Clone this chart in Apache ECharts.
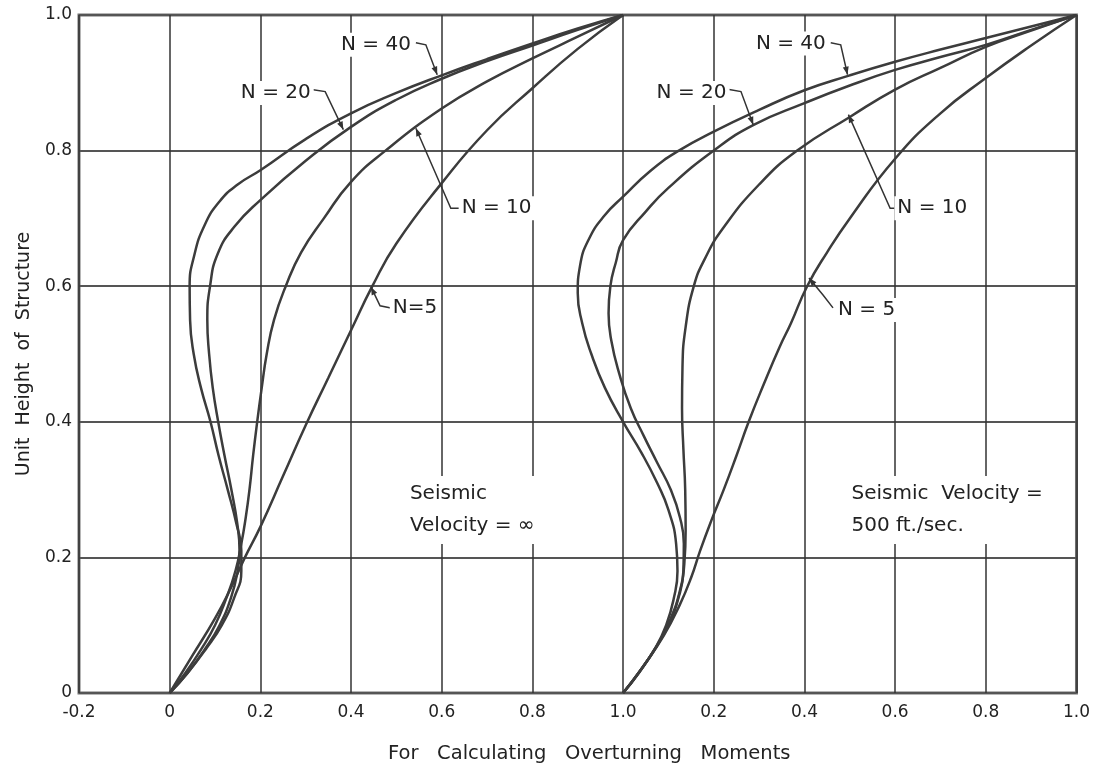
<!DOCTYPE html>
<html><head><meta charset="utf-8">
<script src="https://cdn.jsdelivr.net/npm/echarts@6/dist/echarts.min.js"></script>
<style>html,body{margin:0;padding:0;background:#fff}#c{width:1093px;height:772px}</style>
</head><body><div id="c"></div>
<script>
// ---- tick labels ----
const xTickLabels = ['-0.2','0','0.2','0.4','0.6','0.8','1.0','0.2','0.4','0.6','0.8','1.0'];
const yTickLabels = ['0','0.2','0.4','0.6','0.8','1.0'];
const panelOffsets = { inf: 0.0, v500: 1.0 };

// ---- Seismic velocity = infinity (left panel) : [moment ratio, unit height] ----
const infN40 = [[0,0],[0.04,0.03],[0.08,0.065],[0.115,0.1],[0.142,0.14],[0.158,0.18],[0.158,0.21],[0.147,0.25],[0.128,0.3],[0.108,0.35],[0.09,0.4],[0.069,0.45],[0.053,0.5],[0.045,0.55],[0.044,0.6],[0.054,0.645],[0.077,0.69],[0.11,0.725],[0.15,0.75],[0.2,0.771],[0.3,0.817],[0.4,0.855],[0.5,0.885],[0.6,0.911],[0.7,0.935],[0.8,0.958],[0.9,0.98],[1.0,1.0]];
const infN20 = [[0,0],[0.04,0.03],[0.078,0.065],[0.11,0.1],[0.135,0.14],[0.15,0.18],[0.154,0.21],[0.149,0.25],[0.136,0.3],[0.121,0.35],[0.107,0.4],[0.095,0.45],[0.087,0.5],[0.083,0.55],[0.089,0.6],[0.106,0.648],[0.143,0.688],[0.2,0.727],[0.3,0.785],[0.4,0.835],[0.5,0.875],[0.6,0.906],[0.7,0.932],[0.8,0.955],[0.9,0.978],[1.0,1.0]];
const infN10 = [[0,0],[0.035,0.03],[0.07,0.065],[0.1,0.1],[0.125,0.14],[0.145,0.18],[0.158,0.22],[0.168,0.26],[0.176,0.3],[0.184,0.35],[0.193,0.4],[0.203,0.45],[0.214,0.5],[0.23,0.55],[0.256,0.6],[0.29,0.65],[0.34,0.7],[0.4,0.754],[0.476,0.8],[0.6,0.862],[0.7,0.902],[0.8,0.936],[0.9,0.968],[1.0,1.0]];
const infN5  = [[0,0],[0.05,0.055],[0.1,0.11],[0.135,0.155],[0.166,0.2],[0.2,0.245],[0.25,0.32],[0.3,0.395],[0.35,0.465],[0.4,0.535],[0.447,0.6],[0.5,0.663],[0.6,0.752],[0.7,0.83],[0.8,0.892],[0.9,0.95],[1.0,1.0]];

// ---- Seismic velocity = 500 ft/sec (right panel) ----
const v500N40 = [[0,0],[0.035,0.03],[0.07,0.065],[0.095,0.1],[0.112,0.14],[0.12,0.18],[0.117,0.22],[0.1,0.27],[0.075,0.31],[0.04,0.355],[0.0,0.4],[-0.04,0.45],[-0.07,0.5],[-0.09,0.545],[-0.1,0.59],[-0.095,0.63],[-0.075,0.67],[-0.04,0.705],[0.0,0.732],[0.06,0.77],[0.123,0.8],[0.2,0.828],[0.3,0.86],[0.4,0.889],[0.5,0.911],[0.6,0.931],[0.7,0.949],[0.8,0.966],[0.9,0.983],[1.0,1.0]];
const v500N20 = [[0,0],[0.035,0.03],[0.07,0.065],[0.1,0.1],[0.122,0.14],[0.133,0.18],[0.134,0.22],[0.125,0.26],[0.105,0.3],[0.075,0.34],[0.045,0.38],[0.017,0.42],[-0.008,0.47],[-0.026,0.52],[-0.032,0.56],[-0.028,0.6],[-0.016,0.635],[0.0,0.668],[0.05,0.71],[0.1,0.745],[0.2,0.8],[0.288,0.838],[0.4,0.87],[0.5,0.896],[0.6,0.919],[0.7,0.938],[0.8,0.956],[0.9,0.978],[1.0,1.0]];
const v500N10 = [[0,0],[0.04,0.035],[0.075,0.07],[0.105,0.11],[0.125,0.15],[0.135,0.19],[0.138,0.24],[0.137,0.3],[0.133,0.36],[0.13,0.42],[0.131,0.48],[0.138,0.54],[0.156,0.6],[0.18,0.64],[0.22,0.685],[0.3,0.75],[0.384,0.8],[0.501,0.85],[0.6,0.89],[0.7,0.922],[0.8,0.953],[0.9,0.977],[1.0,1.0]];
const v500N5  = [[0,0],[0.045,0.04],[0.09,0.085],[0.125,0.13],[0.15,0.17],[0.17,0.21],[0.195,0.255],[0.222,0.3],[0.25,0.35],[0.277,0.4],[0.31,0.455],[0.345,0.51],[0.37,0.545],[0.406,0.6],[0.45,0.65],[0.5,0.7],[0.6,0.788],[0.7,0.855],[0.8,0.907],[0.9,0.955],[1.0,1.0]];

const seriesDefs = [
  ['N = 40, V = ∞', infN40, 'inf'], ['N = 20, V = ∞', infN20, 'inf'],
  ['N = 10, V = ∞', infN10, 'inf'], ['N = 5, V = ∞', infN5, 'inf'],
  ['N = 40, V = 500', v500N40, 'v500'], ['N = 20, V = 500', v500N20, 'v500'],
  ['N = 10, V = 500', v500N10, 'v500'], ['N = 5, V = 500', v500N5, 'v500']
];

// ---- annotations (axis coordinates) ----
const curveLabels = [
  {text:'N = 40', at:[0.455,0.956], leader:[[0.543,0.959],[0.565,0.956],[0.59,0.912]]},
  {text:'N = 20', at:[0.234,0.885], leader:[[0.313,0.890],[0.343,0.887],[0.383,0.831]]},
  {text:'N = 10', at:[0.721,0.715], leader:[[0.646,0.715],[0.620,0.715],[0.543,0.833]]},
  {text:'N=5',    at:[0.541,0.568], leader:[[0.488,0.568],[0.464,0.571],[0.444,0.599]]},
  {text:'N = 40', at:[1.370,0.958], leader:[[1.458,0.959],[1.480,0.956],[1.495,0.912]]},
  {text:'N = 20', at:[1.151,0.885], leader:[[1.234,0.890],[1.260,0.887],[1.287,0.838]]},
  {text:'N = 10', at:[1.682,0.715], leader:[[1.607,0.715],[1.589,0.715],[1.497,0.853]]},
  {text:'N = 5',  at:[1.537,0.565], leader:[[1.463,0.568],[1.441,0.587],[1.410,0.612]]}
];
const panelNotes = [
  {text:'Seismic\nVelocity = ∞', at:[0.521,0.320]},
  {text:'Seismic  Velocity =\n500 ft./sec.', at:[1.495,0.320]}
];

const FONT = '"DejaVu Sans", sans-serif';
const INK = '#222';
const xMin = -0.2, xStep = 0.2;

const chart = echarts.init(document.getElementById('c'));
chart.setOption({
  animation: false,
  backgroundColor: '#fff',
  grid: {left: 79, right: 12, top: 15, bottom: 79, show: true, borderColor: '#6e6e6e', borderWidth: 3, backgroundColor: 'transparent'},
  xAxis: {
    type: 'value', min: xMin, max: 2.0, interval: xStep,
    axisLine: {show: false}, axisTick: {show: false},
    axisLabel: {margin: 11, color: INK, fontFamily: FONT, fontSize: 17,
      formatter: v => xTickLabels[Math.round((v - xMin) / xStep)]},
    splitLine: {show: true, lineStyle: {color: '#333', width: 1.5}}
  },
  yAxis: {
    type: 'value', min: 0, max: 1, interval: 0.2,
    name: 'Unit  Height  of  Structure', nameLocation: 'middle', nameGap: 45,
    nameTextStyle: {color: INK, fontFamily: FONT, fontSize: 19},
    axisLine: {show: false}, axisTick: {show: false},
    axisLabel: {margin: 7, color: INK, fontFamily: FONT, fontSize: 17,
      formatter: v => yTickLabels[Math.round(v / 0.2)]},
    splitLine: {show: true, lineStyle: {color: '#555', width: 2}}
  },
  series: seriesDefs.map(([name, pts, panel]) => ({
    name, type: 'line', smooth: 0.5, showSymbol: false, symbol: 'none',
    data: pts.map(p => [p[0] + panelOffsets[panel], p[1]]),
    lineStyle: {color: '#3c3c3c', width: 2.5}, z: 3
  }))
});

const px = p => chart.convertToPixel({gridIndex: 0}, p);
const graphics = [];
curveLabels.forEach(a => {
  const pts = a.leader.map(px);
  graphics.push({type: 'polyline', shape: {points: pts}, style: {stroke: '#333', lineWidth: 1.5, fill: null}, z: 10});
  const [x1, y1] = pts[pts.length - 2], [x2, y2] = pts[pts.length - 1];
  const ang = Math.atan2(y2 - y1, x2 - x1), L = 8, W = 3;
  const bx = x2 - L * Math.cos(ang), by = y2 - L * Math.sin(ang);
  graphics.push({type: 'polygon', shape: {points: [[x2, y2],
    [bx + W * Math.sin(ang), by - W * Math.cos(ang)],
    [bx - W * Math.sin(ang), by + W * Math.cos(ang)]]}, style: {fill: '#333'}, z: 10});
  const c = px(a.at);
  graphics.push({type: 'text', x: c[0], y: c[1], z: 11,
    style: {text: a.text, font: '20px ' + FONT, fill: INK, align: 'center', verticalAlign: 'middle',
      backgroundColor: '#fff', padding: [2, 3]}});
});
panelNotes.forEach(n => {
  const c = px(n.at);
  graphics.push({type: 'text', x: c[0], y: c[1], z: 11,
    style: {text: n.text, font: '20px ' + FONT, fill: INK, align: 'left', verticalAlign: 'top',
      lineHeight: 32, backgroundColor: '#fff', padding: [2, 4]}});
});
graphics.push({type: 'text', left: 388, top: 744, z: 11,
  style: {text: 'For   Calculating   Overturning   Moments', font: '19.5px ' + FONT, fill: INK}});
chart.setOption({graphic: graphics});
</script>
</body></html>
